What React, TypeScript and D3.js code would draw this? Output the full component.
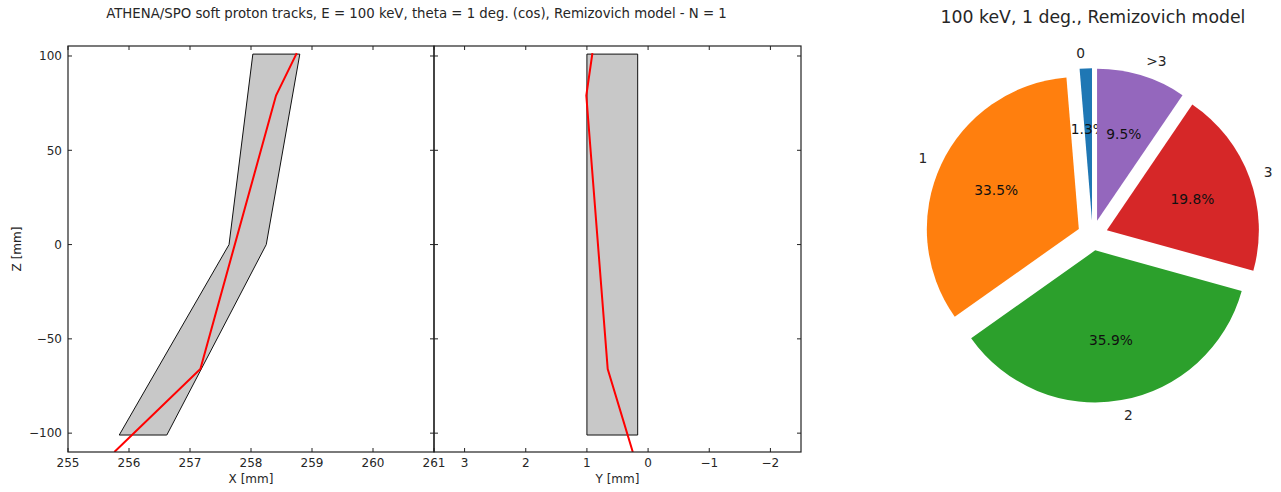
import React from 'react';
import * as d3 from 'd3';

// track and channel geometry (mm)
const trackZ = [-110, -66, 79, 101.5];
const trackX = [255.76, 257.17, 258.41, 258.75];
const trackY = [0.25, 0.66, 1.01, 0.91];

const channelXZ_Z = [101, 101, 0, -101, -101, 0];
const channelXZ_X = [258.03, 258.8, 258.25, 256.62, 255.84, 257.64];
const channelYZ_Z = [101, 101, -101, -101];
const channelYZ_Y = [1.0, 0.17, 0.17, 1.0];

const xTicks = [255, 256, 257, 258, 259, 260, 261];
const yTicks = [3, 2, 1, 0, -1, -2];
const zTicks = [-100, -50, 0, 50, 100];

// pie: number of interactions
const pieLabels = ['0', '1', '2', '3', '>3'];
const pieValues = [1.3, 33.5, 35.9, 19.8, 9.5];
const pieColors = ['#1f77b4', '#ff7f0e', '#2ca02c', '#d62728', '#9467bd'];

const FONT = 'DejaVu Sans';
const fmt = (v: number) => String(v).replace('-', '\u2212');

export default function App() {
  const top = 46;
  const bottom = 452;
  const left1 = 68;
  const right1 = 434;
  const left2 = 434;
  const right2 = 801;

  const zScale = d3.scaleLinear().domain([-110, 105.3]).range([bottom, top]);
  const xScale = d3.scaleLinear().domain([255, 261]).range([left1, right1]);
  const yScale = d3.scaleLinear().domain([3.5, -2.5]).range([left2, right2]);

  const line = d3.line<[number, number]>().x(d => d[0]).y(d => d[1]);

  const xzTrack = trackZ.map((z, i) => [xScale(trackX[i]), zScale(z)] as [number, number]);
  const yzTrack = trackZ.map((z, i) => [yScale(trackY[i]), zScale(z)] as [number, number]);
  const xzChannel = channelXZ_Z.map((z, i) => [xScale(channelXZ_X[i]), zScale(z)] as [number, number]);
  const yzChannel = channelYZ_Z.map((z, i) => [yScale(channelYZ_Y[i]), zScale(z)] as [number, number]);

  const tickLen = 4;
  const axisColor = '#222';
  const textColor = '#262626';

  const panelTicks = (x0: number, x1: number, scale: d3.ScaleLinear<number, number>, ticks: number[], key: string) => (
    <g key={key}>
      {ticks.map(t => (
        <g key={t}>
          <line x1={scale(t)} x2={scale(t)} y1={bottom} y2={bottom - tickLen} stroke={axisColor} />
          <line x1={scale(t)} x2={scale(t)} y1={top} y2={top + tickLen} stroke={axisColor} />
        </g>
      ))}
      {zTicks.map(t => (
        <g key={'z' + t}>
          <line x1={x0} x2={x0 + tickLen} y1={zScale(t)} y2={zScale(t)} stroke={axisColor} />
          <line x1={x1} x2={x1 - tickLen} y1={zScale(t)} y2={zScale(t)} stroke={axisColor} />
        </g>
      ))}
    </g>
  );

  // pie
  const cx = 1092.6;
  const cy = 235.4;
  const R = 152;
  const explode = 0.1 * R;
  const arcs = d3.pie<number>().sort(null).startAngle(0).endAngle(-2 * Math.PI)(pieValues);
  const arcGen = d3.arc<d3.PieArcDatum<number>>().innerRadius(0).outerRadius(R);
  const total = d3.sum(pieValues);

  return (
    <svg width={1281} height={492} style={{ position: 'absolute', left: 0, top: 0, background: '#fff' }} fontFamily={FONT}>
      <defs>
        <clipPath id="clip1"><rect x={left1} y={top} width={right1 - left1} height={bottom - top} /></clipPath>
        <clipPath id="clip2"><rect x={left2} y={top} width={right2 - left2} height={bottom - top} /></clipPath>
      </defs>

      <text x={416.5} y={18} textAnchor="middle" fontSize={13.3} fill={textColor}>
        ATHENA/SPO soft proton tracks, E = 100 keV, theta = 1 deg. (cos), Remizovich model - N = 1
      </text>

      {/* X-Z panel */}
      <g clipPath="url(#clip1)">
        <path d={line(xzChannel) + 'Z'} fill="#c8c8c8" stroke="#111" strokeWidth={1} />
        <path d={line(xzTrack) || ''} fill="none" stroke="#ff0000" strokeWidth={2} />
      </g>
      {/* Y-Z panel */}
      <g clipPath="url(#clip2)">
        <path d={line(yzChannel) + 'Z'} fill="#c8c8c8" stroke="#111" strokeWidth={1} />
        <path d={line(yzTrack) || ''} fill="none" stroke="#ff0000" strokeWidth={2} />
      </g>

      {panelTicks(left1, right1, xScale, xTicks, 'p1')}
      {panelTicks(left2, right2, yScale, yTicks, 'p2')}
      <rect x={left1} y={top} width={right1 - left1} height={bottom - top} fill="none" stroke={axisColor} strokeWidth={1.2} />
      <rect x={left2} y={top} width={right2 - left2} height={bottom - top} fill="none" stroke={axisColor} strokeWidth={1.2} />

      {xTicks.map(t => (
        <text key={'xl' + t} x={xScale(t)} y={467} textAnchor="middle" fontSize={12} fill={textColor}>{fmt(t)}</text>
      ))}
      {yTicks.map(t => (
        <text key={'yl' + t} x={yScale(t)} y={467} textAnchor="middle" fontSize={12} fill={textColor}>{fmt(t)}</text>
      ))}
      {zTicks.map(t => (
        <text key={'zl' + t} x={62} y={zScale(t) + 4.3} textAnchor="end" fontSize={12} fill={textColor}>{fmt(t)}</text>
      ))}
      <text x={(left1 + right1) / 2} y={483} textAnchor="middle" fontSize={12} fill={textColor}>X [mm]</text>
      <text x={(left2 + right2) / 2} y={483} textAnchor="middle" fontSize={12} fill={textColor}>Y [mm]</text>
      <text transform={`translate(21,${(top + bottom) / 2}) rotate(-90)`} textAnchor="middle" fontSize={12} fill={textColor}>Z [mm]</text>

      {/* pie */}
      <text x={1093} y={23} textAnchor="middle" fontSize={17.3} fill={textColor}>100 keV, 1 deg., Remizovich model</text>
      {arcs.map((a, i) => {
        const mid = (a.startAngle + a.endAngle) / 2;
        const ux = Math.sin(mid);
        const uy = -Math.cos(mid);
        const ox = cx + explode * ux;
        const oy = cy + explode * uy;
        return (
          <g key={pieLabels[i]}>
            <path d={arcGen(a) || ''} transform={`translate(${ox},${oy})`} fill={pieColors[i]} />
            <text x={ox + 1.1 * R * ux} y={oy + 1.1 * R * uy} dy="0.35em" textAnchor={ux < 0 ? 'end' : 'start'}
              fontSize={13.8} fill={textColor}>{pieLabels[i]}</text>
            <text x={ox + 0.6 * R * ux} y={oy + 0.6 * R * uy} dy="0.35em" textAnchor="middle"
              fontSize={13.8} fill="#111">{(100 * pieValues[i] / total).toFixed(1) + '%'}</text>
          </g>
        );
      })}
    </svg>
  );
}
